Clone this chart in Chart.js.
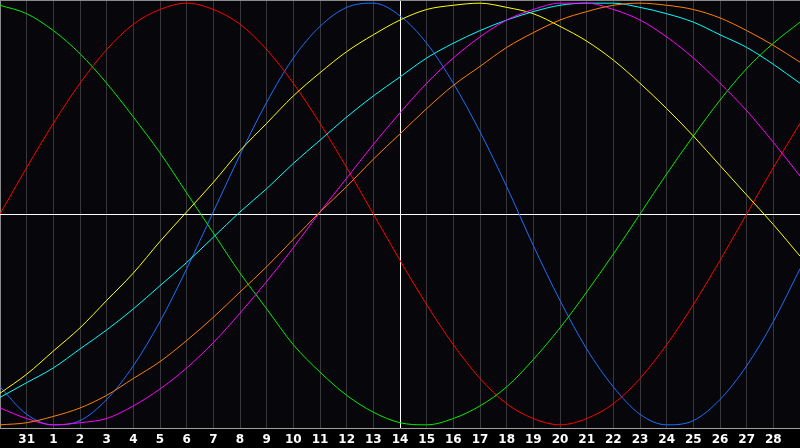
<!DOCTYPE html>
<html>
<head>
<meta charset="utf-8">
<style>
  html, body { margin: 0; padding: 0; background: #000000; }
  #wrap { width: 800px; height: 448px; }
</style>
<script src="https://cdn.jsdelivr.net/npm/chart.js@4/dist/chart.umd.min.js"></script>
</head>
<body>
<div id="wrap"><canvas id="bioChart"></canvas></div>
<script>
// day labels, 30 Jan .. 1 Mar (first and last are not printed)
const days = ['30', '31', '1', '2', '3', '4', '5', '6', '7', '8', '9', '10', '11', '12', '13', '14',
  '15', '16', '17', '18', '19', '20', '21', '22', '23', '24', '25', '26', '27', '28', '1'];
const todayIndex = 15;

// curve values, one per day (-1 .. 1)
const red = [0, 0.22, 0.43, 0.62, 0.78, 0.90, 0.97, 1.00, 0.97, 0.90, 0.78, 0.62, 0.43, 0.22, 0,
  -0.22, -0.43, -0.62, -0.78, -0.90, -0.97, -1.00, -0.97, -0.90, -0.78, -0.62, -0.43, -0.22, 0, 0.22, 0.43];
const green = [0.99, 0.95, 0.87, 0.76, 0.62, 0.46, 0.29, 0.10, -0.09, -0.28, -0.45, -0.62, -0.75, -0.86, -0.94,
  -0.99, -1.00, -0.97, -0.91, -0.82, -0.69, -0.54, -0.37, -0.19, 0, 0.19, 0.37, 0.54, 0.69, 0.81, 0.91];
const blue = [-0.82, -0.95, -1.00, -0.98, -0.88, -0.72, -0.51, -0.26, 0.01, 0.28, 0.53, 0.74, 0.89, 0.98, 1.00,
  0.94, 0.81, 0.62, 0.39, 0.13, -0.15, -0.41, -0.64, -0.82, -0.95, -1.00, -0.98, -0.88, -0.72, -0.51, -0.26];
const yellow = [-0.85, -0.76, -0.65, -0.54, -0.41, -0.28, -0.13, 0.01, 0.15, 0.30, 0.43, 0.56, 0.67, 0.77, 0.85,
  0.92, 0.97, 0.99, 1.00, 0.98, 0.95, 0.89, 0.82, 0.73, 0.62, 0.50, 0.37, 0.23, 0.09, -0.05, -0.20];
const cyan = [-0.87, -0.80, -0.73, -0.64, -0.55, -0.45, -0.34, -0.23, -0.11, 0.01, 0.12, 0.24, 0.35, 0.46, 0.56,
  0.65, 0.74, 0.81, 0.87, 0.92, 0.96, 0.99, 1.00, 1.00, 0.98, 0.95, 0.91, 0.85, 0.79, 0.71, 0.62];
const magenta = [-0.92, -0.97, -1.00, -0.99, -0.97, -0.91, -0.83, -0.73, -0.61, -0.47, -0.32, -0.16, 0.01, 0.17, 0.33,
  0.48, 0.62, 0.74, 0.84, 0.92, 0.97, 1.00, 1.00, 0.97, 0.92, 0.84, 0.74, 0.62, 0.49, 0.34, 0.18];
const orange = [-1.00, -0.99, -0.96, -0.92, -0.86, -0.78, -0.70, -0.60, -0.49, -0.37, -0.25, -0.12, 0.01, 0.13, 0.26,
  0.38, 0.50, 0.61, 0.70, 0.79, 0.86, 0.92, 0.96, 0.99, 1.00, 0.99, 0.97, 0.93, 0.87, 0.80, 0.72];

const series = [
  { label: 'orange', data: orange, color: '#ff8000' },
  { label: 'magenta', data: magenta, color: '#ff00ff' },
  { label: 'cyan', data: cyan, color: '#00ffff' },
  { label: 'yellow', data: yellow, color: '#ffff00' },
  { label: 'green', data: green, color: '#00ee00' },
  { label: 'red', data: red, color: '#ff0000' },
  { label: 'blue', data: blue, color: '#1e6eff' },
];

// dark plot background, black strip under the axis
const background = {
  id: 'background',
  beforeDraw(chart) {
    const { ctx, chartArea } = chart;
    ctx.save();
    ctx.fillStyle = '#000000';
    ctx.fillRect(0, 0, chart.width, chart.height);
    ctx.fillStyle = '#07060b';
    ctx.fillRect(chartArea.left, chartArea.top, chartArea.width, chartArea.height);
    ctx.restore();
  }
};

const ctx = document.getElementById('bioChart').getContext('2d');
new Chart(ctx, {
  type: 'line',
  data: {
    labels: days,
    datasets: series.map(s => ({
      label: s.label,
      data: s.data,
      borderColor: s.color,
      borderWidth: 1,
      pointRadius: 0,
      pointHoverRadius: 0,
      cubicInterpolationMode: 'monotone',
      fill: false
    }))
  },
  options: {
    responsive: true,
    maintainAspectRatio: false,
    animation: false,
    layout: { padding: 0, autoPadding: false },
    plugins: {
      legend: { display: false },
      tooltip: { enabled: false }
    },
    scales: {
      x: {
        offset: false,
        grid: {
          drawTicks: true,
          tickLength: 5,
          tickColor: 'rgba(0,0,0,0)',
          lineWidth: 1,
          color: c => {
            if (c.index === todayIndex) return '#ffffff';
            if (c.index === 0 || c.index === days.length - 1) return '#8a8a8a';
            return '#38383c';
          }
        },
        border: { display: true, color: '#a0a0a0', width: 1 },
        ticks: {
          autoSkip: false,
          maxRotation: 0,
          padding: 0,
          color: '#ffffff',
          font: { family: 'DejaVu Sans', size: 12, weight: 'bold' },
          callback: (v, i) => (i === 0 || i === days.length - 1) ? '' : days[i]
        },
        afterFit: s => { s.height = 20; }
      },
      y: {
        min: -1.015,
        max: 1.015,
        afterBuildTicks: s => { s.ticks = [{ value: 0 }, { value: s.max }]; },
        grid: {
          drawTicks: false,
          lineWidth: 1,
          color: c => c.tick.value === 0 ? '#ffffff' : '#8a8a8a'
        },
        border: { display: false },
        ticks: { display: false },
        afterFit: s => { s.width = 0; }
      }
    }
  },
  plugins: [background]
});
</script>
</body>
</html>
